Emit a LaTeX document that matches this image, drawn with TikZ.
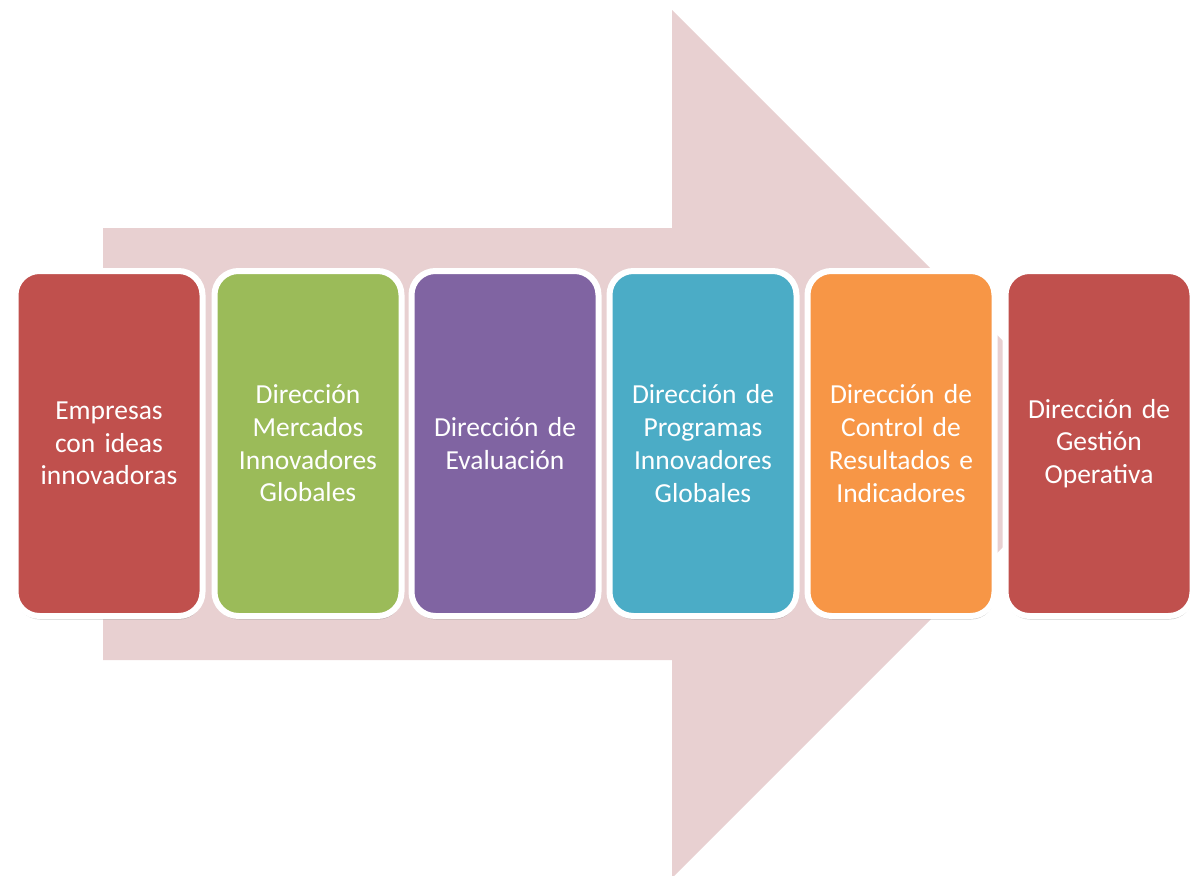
\documentclass[tikz,border=0pt]{standalone}
\usepackage{fontspec}
\setmainfont{Carlito}
\usetikzlibrary{shadows}
\definecolor{arrowpink}{RGB}{232,208,209}
\definecolor{boxred}{RGB}{192,80,77}
\definecolor{boxgreen}{RGB}{155,187,89}
\definecolor{boxpurple}{RGB}{128,100,162}
\definecolor{boxteal}{RGB}{75,172,198}
\definecolor{boxorange}{RGB}{247,150,70}

\begin{document}
\begin{tikzpicture}[x=1pt,y=-1pt,
  step box/.style={rounded corners=24pt,draw=white,line width=6pt,
    minimum width=187pt,minimum height=345pt,text width=175pt,
    align=center,text=white,font=\fontsize{27.5}{32.7}\selectfont,
    drop shadow={shadow xshift=0.5pt,shadow yshift=-3.5pt,opacity=0.3,fill=black!70}}]
  \useasboundingbox (0,0) rectangle (1195,876);
  % big arrow behind the boxes
  \fill[arrowpink] (103,228) -- (672,228) -- (672,10) -- (1106,444)
    -- (672,878) -- (672,660) -- (103,660) -- cycle;
  \node[step box,fill=boxred]    (emp) at (109,443.5) {Empresas\\con ideas\\innovadoras};
  \node[step box,fill=boxgreen]  (dmi) at (308,443.5) {Dirección\\Mercados\\Innovadores\\Globales};
  \node[step box,fill=boxpurple] (dev) at (505,443.5) {Dirección de\\Evaluación};
  \node[step box,fill=boxteal]   (dpi) at (703,443.5) {Dirección de\\Programas\\Innovadores\\Globales};
  \node[step box,fill=boxorange] (dcr) at (901,443.5) {Dirección de\\Control de\\Resultados e\\Indicadores};
  \node[step box,fill=boxred]    (dgo) at (1099,443.5) {Dirección de\\Gestión\\Operativa};
\end{tikzpicture}
\end{document}
